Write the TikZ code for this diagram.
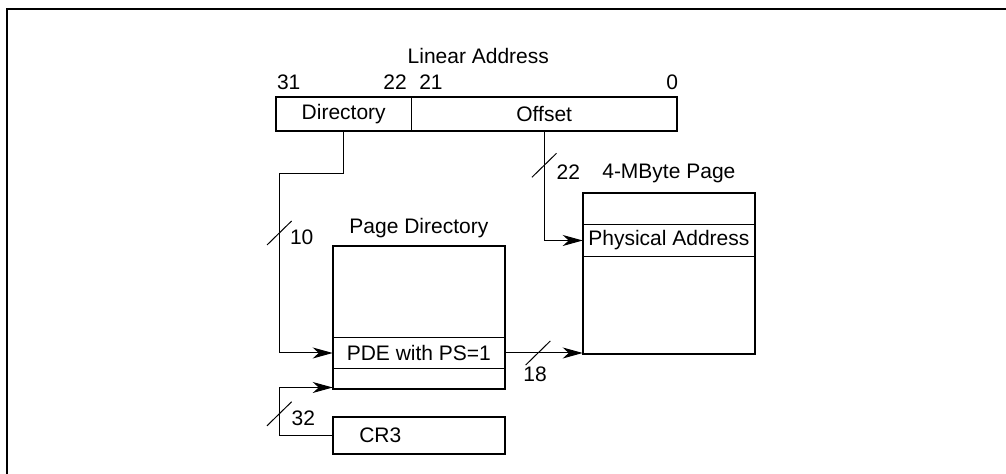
\documentclass[tikz,border=0pt]{standalone}
\usepackage{fontspec}
\setmainfont{Liberation Sans}
\usetikzlibrary{positioning,fit,calc,arrows.meta}
\begin{document}
\begin{tikzpicture}[x=0.5pt, y=-0.5pt, font=\fontsize{10.5pt}{12pt}\selectfont]
  \newcommand{\busx}[0]{279.3}
  \newcommand{\memwidth}[0]{86.15pt}
  \newcommand{\titlesep}[0]{4pt}
  \newcommand{\busslash}[1]{\draw [wire] ($(#1)+(-12.3,12)$) -- ($(#1)+(12.3,-12)$);}
  \tikzstyle{bitfield}  = [rectangle, draw = black, line width=0.5pt, minimum height=17pt, inner sep=0pt, outer sep=0pt]
  \tikzstyle{memtable}  = [rectangle, draw = black, line width=1pt, minimum width=\memwidth, inner sep=0pt, outer sep=0pt]
  \tikzstyle{memrow}    = [rectangle, draw = black, line width=0.5pt, minimum width=\memwidth, inner sep=0pt, outer sep=0pt]
  \tikzstyle{tag}       = [inner sep=0pt, outer sep=0pt]
  \tikzstyle{wire}      = [line width=0.5pt]
  \tikzstyle{connector} = [line width=0.5pt, -{Stealth[length=10pt, width=5.5pt, inset=3pt]}]

  \useasboundingbox (0,0) rectangle (1006,474);
  \draw [line width=1pt] (1006,8.7) -- (6.7,8.7) -- (6.7,474);

  % linear address
  \node [bitfield, minimum width=68pt]                      (dir)     at (343.7,113.7) {Directory};
  \node [bitfield, minimum width=132.5pt, right = 0pt of dir] (offset)  {Offset};
  \node [fit = (dir) (offset), draw = black, line width=1pt, inner sep=0pt] (linaddr) {};
  \node [tag, anchor=base]       (linaddrname) at (478.3,63.3) {Linear Address};
  \node [tag, anchor=base west]  (bit31)       at (277,89.3)   {31};
  \node [tag, anchor=base east]  (bit22)       at (406.7,89.3) {22};
  \node [tag, anchor=base west]  (bit21)       at (419.3,89.3) {21};
  \node [tag, anchor=base east]  (bit0)        at (678,89.3)   {0};

  % page directory and cr3
  \node [memtable, minimum height=71.5pt]                  (pd)      at (418.85,317.5) {};
  \node [tag, above = \titlesep of pd]                     (pdname)  {Page Directory};
  \node [memrow, minimum height=15.7pt, above = 10.15pt of pd.south] (pde) {PDE with PS=1};
  \node [memtable, minimum height=18.35pt]                 (cr3)     at (418.85,435.65) {};
  \node [tag, right = 13.3pt of cr3.west]                  (cr3name) {CR3};

  % 4-MByte page
  \node [memtable, minimum height=80.5pt]                  (page)     at (668.85,273.8) {};
  \node [tag, above = 5pt of page]                         (pagename) {4-MByte Page};
  \node [memrow, minimum height=16.2pt, below = 15.5pt of page.north] (pa) {Physical Address};

  % connectors
  \coordinate (bus)   at (\busx,0);
  \coordinate (bend)  at (\busx,173.3);
  \coordinate (pdlow) at ($(pd.south west)+(0,-1.5)$);
  \draw [connector] (dir.south)    |- (bend) |- (pde.west);
  \draw [connector] (offset.south) |- (pa.west);
  \draw [connector] (pde.east)     -- (pde.east -| page.west);
  \draw [connector] (cr3.west)     -| (bus |- pdlow) -- (pdlow);

  % bus widths
  \coordinate (slash22) at ($(offset.south)+(0,34.6)$);
  \coordinate (slash10) at (\busx,233);
  \coordinate (slash18) at ($(pde.east)+(33,0)$);
  \coordinate (slash32) at (\busx,413.8);
  \busslash{slash22}
  \busslash{slash10}
  \busslash{slash18}
  \busslash{slash32}
  \node [tag] (width22) at (568.3,171.7) {22};
  \node [tag] (width10) at (301.7,237.7) {10};
  \node [tag] (width18) at (535,374)     {18};
  \node [tag] (width32) at (303.3,418.3) {32};
\end{tikzpicture}
\end{document}
